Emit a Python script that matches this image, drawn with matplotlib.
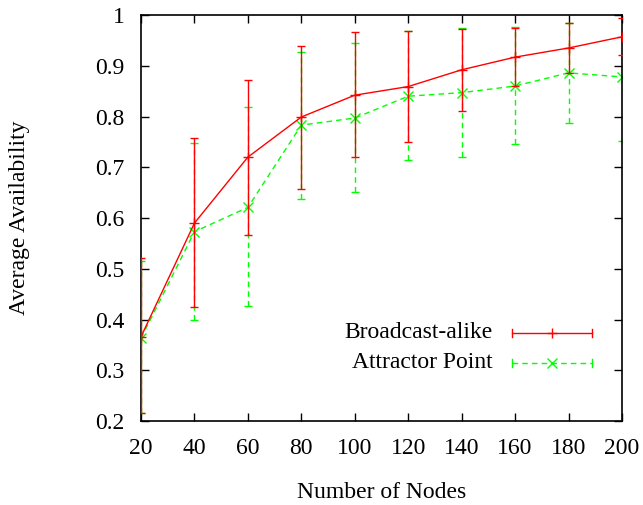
import matplotlib
matplotlib.use("Agg")
import matplotlib.pyplot as plt
import numpy as np

plt.rcParams['font.family'] = ['Liberation Serif', 'DejaVu Serif']

nodes = [20, 40, 60, 80, 100, 120, 140, 160, 180, 200]

broadcast = [0.366, 0.590, 0.720, 0.799, 0.842, 0.859, 0.892, 0.917, 0.935, 0.957]
broadcast_lo = [0.216, 0.424, 0.566, 0.657, 0.720, 0.750, 0.811, 0.860, 0.886, 0.922]
broadcast_hi = [0.521, 0.757, 0.872, 0.939, 0.966, 0.968, 0.973, 0.974, 0.984, 0.994]

attractor = [0.363, 0.573, 0.621, 0.783, 0.797, 0.840, 0.847, 0.860, 0.886, 0.878]
attractor_lo = [0.216, 0.399, 0.427, 0.637, 0.651, 0.714, 0.720, 0.746, 0.787, 0.751]
attractor_hi = [0.515, 0.747, 0.818, 0.928, 0.945, 0.968, 0.974, 0.976, 0.985, 1.005]

xticks = [20, 40, 60, 80, 100, 120, 140, 160, 180, 200]
yticks = [0.2, 0.3, 0.4, 0.5, 0.6, 0.7, 0.8, 0.9, 1.0]
ytick_labels = ["0.2", "0.3", "0.4", "0.5", "0.6", "0.7", "0.8", "0.9", "1"]

RED = "#ff0000"
GREEN = "#00ff00"
FS = 17

fig = plt.figure(figsize=(6.43, 5.05), dpi=100)
ax = fig.add_axes([0.2193, 0.1663, 0.7480, 0.8040])

b = np.array(broadcast); a = np.array(attractor)
b_err = [b - np.array(broadcast_lo), np.array(broadcast_hi) - b]
a_err = [a - np.array(attractor_lo), np.array(attractor_hi) - a]

ax.errorbar(nodes, broadcast, yerr=b_err, color=RED, lw=1.0, marker="+",
            markersize=7, capsize=3, elinewidth=1.0, capthick=1.0, zorder=3)
eb = ax.errorbar(nodes, attractor, yerr=a_err, color=GREEN, lw=1.0, marker="x",
                 markersize=7, capsize=3, elinewidth=1.0, capthick=1.0,
                 ls=(0, (4, 3)), zorder=2)
eb[2][0].set_linestyle((0, (4, 3)))

ax.set_xlim(20, 200)
ax.set_ylim(0.2, 1.0)
ax.set_xticks(xticks)
ax.set_yticks(yticks)
ax.set_yticklabels(ytick_labels)
ax.tick_params(direction="in", length=6, width=1, top=True, right=True,
               labelsize=FS)
ax.tick_params(axis="y", pad=12)
ax.tick_params(axis="x", pad=12)
for s in ax.spines.values():
    s.set_linewidth(1.2)

fig.text(382 / 643, 1 - 493 / 505, "Number of Nodes", ha="center", va="center",
         fontsize=FS)
fig.text(20 / 643, 1 - 218 / 505, "Average Availability", ha="center",
         va="center", rotation=90, fontsize=FS)

# gnuplot-style key (manual)
def key_entry(y, label, color, marker, ls):
    x0, x1 = 0.7713, 0.9376
    ax.text(0.732, y, label, transform=ax.transAxes, ha="right", va="center",
            fontsize=FS)
    ax.plot([x0, x1], [y, y], transform=ax.transAxes, color=color, lw=1.0,
            ls=ls, clip_on=False)
    for xx in (x0, x1):
        ax.plot([xx, xx], [y - 0.009, y + 0.009], transform=ax.transAxes,
                color=color, lw=1.0, clip_on=False)
    ax.plot([(x0 + x1) / 2], [y], transform=ax.transAxes, color=color,
            marker=marker, markersize=7, clip_on=False)

key_entry(0.2168, "Broadcast-alike", RED, "+", "-")
key_entry(0.1429, "Attractor Point", GREEN, "x", (0, (4, 3)))

fig.savefig("out.png", dpi=100)
